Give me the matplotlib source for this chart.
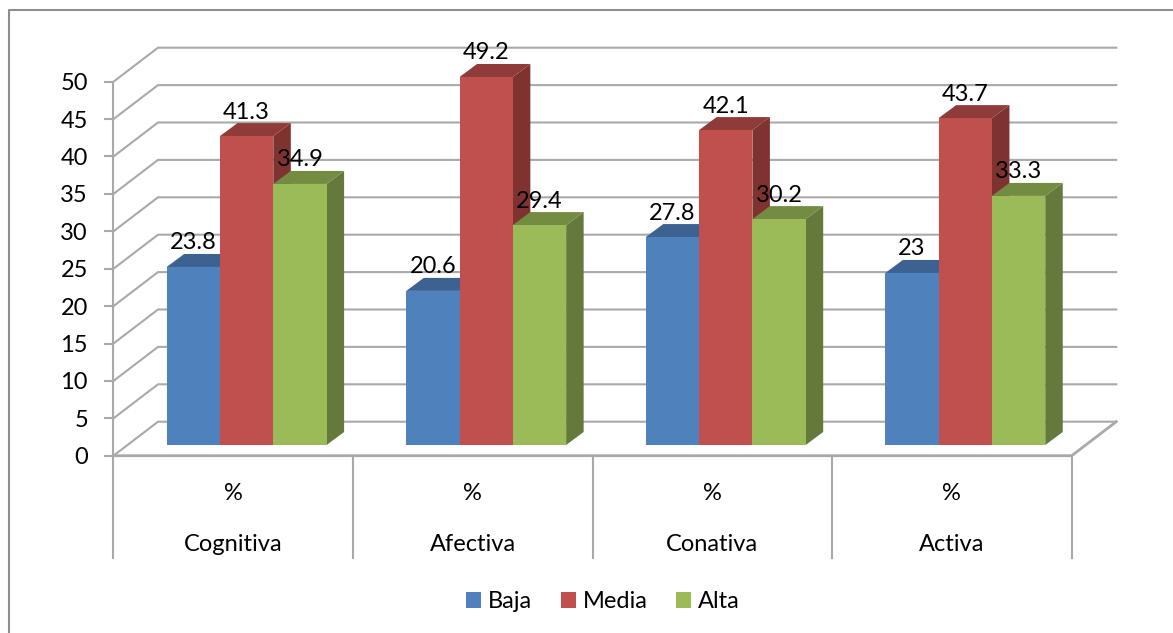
#!/usr/bin/env python3
import matplotlib
matplotlib.use("Agg")
import matplotlib.pyplot as plt
from matplotlib.patches import Patch, Polygon

categories = ["Cognitiva", "Afectiva", "Conativa", "Activa"]
sub_label = "%"
series = ["Baja", "Media", "Alta"]
baja = [23.8, 20.6, 27.8, 23]
media = [41.3, 49.2, 42.1, 43.7]
alta = [34.9, 29.4, 30.2, 33.3]
y_ticks = [0, 5, 10, 15, 20, 25, 30, 35, 40, 45, 50]

plt.rcParams["font.family"] = ["Lato", "DejaVu Sans"]

W, H = 1173, 633
fig = plt.figure(figsize=(W / 100, H / 100), dpi=100)
ax = fig.add_axes([0, 0, 1, 1])

# scale of the plot: pixels per category and per value unit
px_cat = 239.55
px_val = 7.48
x0_px, y0_px = 113.5, 455.7
ax.set_xlim(-x0_px / px_cat, (W - x0_px) / px_cat)
ax.set_ylim((y0_px - H) / px_val, y0_px / px_val)
ax.axis("off")

grid_col = "#a9a9a9"
frame_col = "#8e8e8e"
lw_grid = 1.5
fs = 17
# Lato sits a bit high when centred
text_nudge = 2 / px_val

# depth of the walls and of the bars
wall_dx, wall_dy = 44.5 / px_cat, 34 / px_val
bar_dx, bar_dy = 17.5 / px_cat, 13 / px_val
bar_base = (y0_px - 445) / px_val
gap = 53.2 / px_cat
bar_w = 53.3 / px_cat
n = len(categories)

# outer frame of the chart: only left and top are inside the crop
ax.plot([(9 - x0_px) / px_cat, (9 - x0_px) / px_cat, (W - x0_px) / px_cat],
        [(y0_px - H) / px_val, (y0_px - 10) / px_val, (y0_px - 10) / px_val],
        color=frame_col, lw=1.5, zorder=1)

# back wall grid and side wall diagonals
for v in y_ticks:
    ax.plot([0, wall_dx, n + wall_dx], [v, v + wall_dy, v + wall_dy],
            color=grid_col, lw=lw_grid, zorder=2, solid_joinstyle="miter")
    ax.plot([-8.5 / px_cat, 0], [v, v], color=grid_col, lw=lw_grid, zorder=2)
    ax.text(-25.5 / px_cat, v - text_nudge, str(v), ha="right", va="center", fontsize=fs, color="black")
ax.plot([0, n, n + wall_dx], [0, 0, wall_dy], color=grid_col, lw=2, zorder=2.5)

# axis lines, category separators go below the floor line
ax.plot([0, 0], [50, -102.5 / px_val], color=grid_col, lw=lw_grid, zorder=2.5)
for i in range(1, n + 1):
    ax.plot([i, i], [0, -102.5 / px_val], color=grid_col, lw=lw_grid, zorder=2.5)

for i, cat in enumerate(categories):
    ax.text(i + 0.5, -35.5 / px_val - text_nudge, sub_label, ha="center", va="center", fontsize=fs)
    ax.text(i + 0.5, -86.5 / px_val - text_nudge, cat, ha="center", va="center", fontsize=fs)

colors = ["#4f81bd", "#c0504d", "#9bbb59"]
top_colors = ["#3b6291", "#8f3b39", "#748c42"]
side_colors = ["#315278", "#7e3331", "#66793d"]

z = 3
for i in range(n):
    for j, values in enumerate([baja, media, alta]):
        v = values[i]
        x1 = i + gap + j * bar_w
        x2 = x1 + bar_w
        y1 = bar_base
        y2 = bar_base + v
        side = [(x2, y1), (x2 + bar_dx, y1 + bar_dy), (x2 + bar_dx, y2 + bar_dy), (x2, y2)]
        top = [(x1, y2), (x1 + bar_dx, y2 + bar_dy), (x2 + bar_dx, y2 + bar_dy), (x2, y2)]
        front = [(x1, y1), (x2, y1), (x2, y2), (x1, y2)]
        ax.add_patch(Polygon(side, fc=side_colors[j], ec="none", zorder=z))
        ax.add_patch(Polygon(top, fc=top_colors[j], ec="none", zorder=z))
        ax.add_patch(Polygon(front, fc=colors[j], ec="none", zorder=z))
        z += 0.01

# data labels
for i in range(n):
    for j, values in enumerate([baja, media, alta]):
        v = values[i]
        lx = i + gap + (j + 0.5) * bar_w
        ly = bar_base + v + 26 / px_val - text_nudge
        ax.text(lx, ly, f"{v:g}", ha="center", va="center", fontsize=fs, zorder=5)

handles = [Patch(fc=c, ec="none", label=s) for c, s in zip(colors, series)]
ax.legend(handles=handles, loc="center", bbox_to_anchor=(603 / W, 1 - 602 / H), ncol=3,
          frameon=False, fontsize=fs, handlelength=0.635, handleheight=0.635,
          handletextpad=0.3, columnspacing=1.2, borderpad=0, borderaxespad=0)

fig.savefig("out.png", dpi=100)
